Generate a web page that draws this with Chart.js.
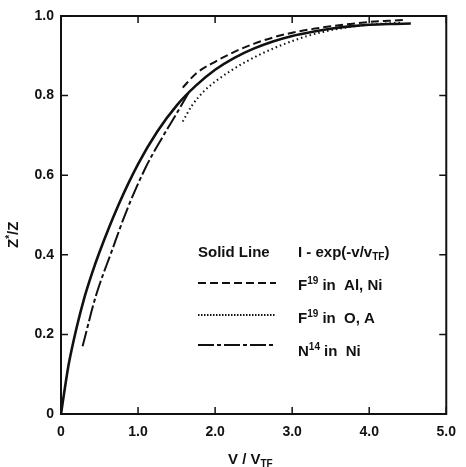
<!DOCTYPE html>
<html>
<head>
<meta charset="utf-8">
<script src="https://cdn.jsdelivr.net/npm/chart.js@4.4.1/dist/chart.umd.min.js"></script>
<style>
  html, body { margin: 0; padding: 0; background: #fff; }
  #wrap { width: 466px; height: 467px; }
</style>
</head>
<body>
<div id="wrap"><canvas id="zChart" width="466" height="467"></canvas></div>
<script>
// values (V/V_TF on x, Z*/Z on y)
const solidX = [0, 0.05, 0.1, 0.2, 0.3, 0.4, 0.5, 0.75, 1.0, 1.25, 1.5, 1.75, 2.0, 2.25, 2.5, 2.75, 3.0, 3.25, 3.5, 3.75, 4.0, 4.25, 4.54];
const solidY = [0, 0.065, 0.125, 0.215, 0.29, 0.352, 0.407, 0.527, 0.628, 0.71, 0.775, 0.825, 0.865, 0.895, 0.918, 0.936, 0.95, 0.96, 0.968, 0.974, 0.978, 0.98, 0.981];

const dashedX = [1.58, 1.75, 2.0, 2.25, 2.5, 2.75, 3.0, 3.25, 3.5, 3.75, 4.0, 4.25, 4.45];
const dashedY = [0.82, 0.855, 0.885, 0.91, 0.93, 0.946, 0.958, 0.967, 0.974, 0.98, 0.985, 0.988, 0.99];

const dottedX = [1.58, 1.7, 1.85, 2.0, 2.2, 2.4, 2.6, 2.8, 3.0, 3.2, 3.4, 3.6, 3.8, 4.0, 4.2, 4.4];
const dottedY = [0.735, 0.775, 0.81, 0.835, 0.862, 0.885, 0.905, 0.922, 0.937, 0.95, 0.96, 0.968, 0.974, 0.978, 0.981, 0.983];

const dashDotX = [0.28, 0.45, 0.66, 0.85, 1.1, 1.3, 1.5, 1.65];
const dashDotY = [0.17, 0.295, 0.41, 0.51, 0.62, 0.69, 0.755, 0.805];

const xTicks = [0, 1, 2, 3, 4, 5];
const yTicks = [0, 0.2, 0.4, 0.6, 0.8, 1.0];

const FONT = 'bold 15px "Liberation Sans", Arial, sans-serif';
const SMALL = 'bold 10px "Liberation Sans", Arial, sans-serif';
const INK = '#111';

function pts(xs, ys) {
  return xs.map((x, i) => ({ x: x, y: ys[i] }));
}

// draws text pieces: [text, font, dy]
function drawPieces(ctx, x, y, pieces) {
  let cx = x;
  pieces.forEach(p => {
    ctx.font = p[1];
    ctx.fillText(p[0], cx, y + p[2]);
    cx += ctx.measureText(p[0]).width;
  });
}

const framePlugin = {
  id: 'frame',
  afterDraw(chart) {
    const ctx = chart.ctx;
    const a = chart.chartArea;
    const xs = chart.scales.x, ys = chart.scales.y;
    ctx.save();
    ctx.strokeStyle = INK;
    ctx.lineWidth = 2;
    ctx.strokeRect(a.left, a.top, a.right - a.left, a.bottom - a.top);

    // inward tick marks on all four sides
    ctx.lineWidth = 1.5;
    ctx.beginPath();
    xTicks.forEach(v => {
      const px = xs.getPixelForValue(v);
      ctx.moveTo(px, a.bottom); ctx.lineTo(px, a.bottom - 7);
      ctx.moveTo(px, a.top); ctx.lineTo(px, a.top + 7);
    });
    yTicks.forEach(v => {
      const py = ys.getPixelForValue(v);
      ctx.moveTo(a.left, py); ctx.lineTo(a.left + 7, py);
      ctx.moveTo(a.right, py); ctx.lineTo(a.right - 7, py);
    });
    ctx.stroke();

    // axis titles
    ctx.fillStyle = INK;
    ctx.textBaseline = 'alphabetic';
    ctx.textAlign = 'left';
    drawPieces(ctx, 228, 464, [['V / V', FONT, 0], ['TF', SMALL, 3]]);

    ctx.save();
    ctx.translate(18, 248);
    ctx.rotate(-Math.PI / 2);
    drawPieces(ctx, 0, 0, [['Z', FONT, 0], ['*', SMALL, -5], ['/Z', FONT, 0]]);
    ctx.restore();

    // legend
    const lx0 = 198, lx1 = 276, tx = 298;
    ctx.font = FONT;
    ctx.fillText('Solid Line', lx0, 257);
    drawPieces(ctx, tx, 257, [['I - exp(-v/v', FONT, 0], ['TF', SMALL, 3], [')', FONT, 0]]);
    drawPieces(ctx, tx, 290, [['F', FONT, 0], ['19', SMALL, -6], [' in  Al, Ni', FONT, 0]]);
    drawPieces(ctx, tx, 323, [['F', FONT, 0], ['19', SMALL, -6], [' in  O, A', FONT, 0]]);
    drawPieces(ctx, tx, 356, [['N', FONT, 0], ['14', SMALL, -6], [' in  Ni', FONT, 0]]);

    const samples = [
      [283, [8, 4], 2],
      [315, [1.5, 1.5], 2],
      [345, [16, 3, 4, 3], 2]
    ];
    samples.forEach(s => {
      ctx.beginPath();
      ctx.setLineDash(s[1]);
      ctx.lineWidth = s[2];
      ctx.moveTo(lx0, s[0]); ctx.lineTo(lx1, s[0]);
      ctx.stroke();
    });
    ctx.setLineDash([]);
    ctx.restore();
  }
};

function makeChart() {
  const ctx = document.getElementById('zChart').getContext('2d');
  new Chart(ctx, {
    type: 'scatter',
    data: {
      datasets: [
        { label: 'Solid Line', data: pts(solidX, solidY), borderWidth: 2.6 },
        { label: 'F19 in Al,Ni', data: pts(dashedX, dashedY), borderWidth: 2, borderDash: [8, 4] },
        { label: 'F19 in O,A', data: pts(dottedX, dottedY), borderWidth: 2, borderDash: [1.5, 3] },
        { label: 'N14 in Ni', data: pts(dashDotX, dashDotY), borderWidth: 2, borderDash: [16, 3, 4, 3] }
      ].map(d => Object.assign({
        showLine: true, pointRadius: 0, borderColor: INK, cubicInterpolationMode: 'monotone', fill: false
      }, d))
    },
    options: {
      responsive: false,
      animation: false,
      layout: { padding: { top: 16, right: 7, left: 0, bottom: 0 } },
      plugins: { legend: { display: false }, tooltip: { enabled: false } },
      scales: {
        x: {
          type: 'linear', min: 0, max: 5,
          afterFit: s => { s.height = 53; },
          afterBuildTicks: s => { s.ticks = xTicks.map(v => ({ value: v })); },
          grid: { display: false, drawTicks: false },
          border: { display: false },
          ticks: {
            padding: 10, color: INK, font: { family: '"Liberation Sans", Arial, sans-serif', size: 14, weight: 'bold' },
            callback: v => v === 0 ? '0' : v.toFixed(1)
          }
        },
        y: {
          type: 'linear', min: 0, max: 1,
          afterFit: s => { s.width = 61; },
          afterBuildTicks: s => { s.ticks = yTicks.map(v => ({ value: v })); },
          grid: { display: false, drawTicks: false },
          border: { display: false },
          ticks: {
            padding: 7, color: INK, font: { family: '"Liberation Sans", Arial, sans-serif', size: 14, weight: 'bold' },
            callback: v => v === 0 ? '0' : v.toFixed(1)
          }
        }
      }
    },
    plugins: [framePlugin]
  });
}

makeChart();
</script>
</body>
</html>
